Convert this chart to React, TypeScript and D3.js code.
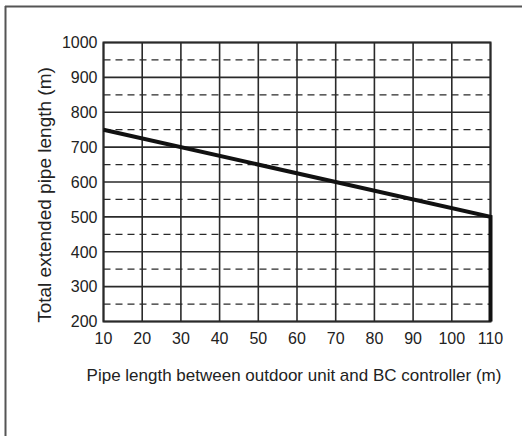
import React from "react";
import * as d3 from "d3";

const xTicks = [10, 20, 30, 40, 50, 60, 70, 80, 90, 100, 110];
const yTicks = [200, 300, 400, 500, 600, 700, 800, 900, 1000];
const yDashed = [250, 350, 450, 550, 650, 750, 850, 950];
const lineX = [10, 110, 110];
const lineY = [750, 500, 200];
const xTitle = "Pipe length between outdoor unit and BC controller (m)";
const yTitle = "Total extended pipe length (m)";

const W = 522;
const H = 436;
const m = { left: 103.5, right: 490.5, top: 42.5, bottom: 321.5 };

export default function App() {
  const x = d3.scaleLinear().domain([10, 110]).range([m.left, m.right]);
  const y = d3.scaleLinear().domain([200, 1000]).range([m.bottom, m.top]);
  const pts: [number, number][] = lineX.map((v, i) => [v, lineY[i]]);
  const line = d3
    .line<[number, number]>()
    .x((d) => x(d[0]))
    .y((d) => y(d[1]));
  const font = "'Liberation Sans', Arial, sans-serif";
  const grid = "#2a2a2a";
  return (
    <svg
      width={W}
      height={H}
      style={{ position: "absolute", left: 0, top: 0, background: "#fff" }}
      fontFamily={font}
    >
      <rect x={0} y={0} width={W} height={H} fill="#fff" />
      {/* outer frame */}
      <line x1={5} y1={6.5} x2={W} y2={6.5} stroke="#555" strokeWidth={2} />
      <line x1={5.5} y1={6} x2={5.5} y2={H} stroke="#555" strokeWidth={2} />
      {/* dashed grid */}
      {yDashed.map((v) => (
        <line
          key={"d" + v}
          x1={x(10)}
          x2={x(110)}
          y1={y(v)}
          y2={y(v)}
          stroke={grid}
          strokeWidth={1.2}
          strokeDasharray="7,5"
        />
      ))}
      {/* solid horizontal */}
      {yTicks.map((v) => (
        <line
          key={"h" + v}
          x1={x(10)}
          x2={x(110)}
          y1={y(v)}
          y2={y(v)}
          stroke={grid}
          strokeWidth={1.6}
        />
      ))}
      {/* solid vertical */}
      {xTicks.map((v) => (
        <line
          key={"v" + v}
          x1={x(v)}
          x2={x(v)}
          y1={y(200)}
          y2={y(1000)}
          stroke={grid}
          strokeWidth={1.6}
        />
      ))}
      <rect
        x={x(10)}
        y={y(1000)}
        width={x(110) - x(10)}
        height={y(200) - y(1000)}
        fill="none"
        stroke={grid}
        strokeWidth={2}
      />
      {/* data line */}
      <path
        d={line(pts) || ""}
        fill="none"
        stroke="#111"
        strokeWidth={4}
        strokeLinejoin="miter"
      />
      {/* y tick labels */}
      {yTicks.map((v) => (
        <text
          key={"yl" + v}
          x={x(10) - 6}
          y={y(v)}
          dy="0.36em"
          textAnchor="end"
          fontSize={16}
          fill="#222"
        >
          {v}
        </text>
      ))}
      {/* x tick labels */}
      {xTicks.map((v) => (
        <text
          key={"xl" + v}
          x={x(v)}
          y={344}
          textAnchor="middle"
          fontSize={16}
          fill="#222"
        >
          {v}
        </text>
      ))}
      <text
        x={294}
        y={381}
        textAnchor="middle"
        fontSize={17}
        fill="#222"
      >
        {xTitle}
      </text>
      <text
        transform={`translate(51, 195) rotate(-90)`}
        textAnchor="middle"
        fontSize={19}
        fill="#222"
      >
        {yTitle}
      </text>
    </svg>
  );
}
